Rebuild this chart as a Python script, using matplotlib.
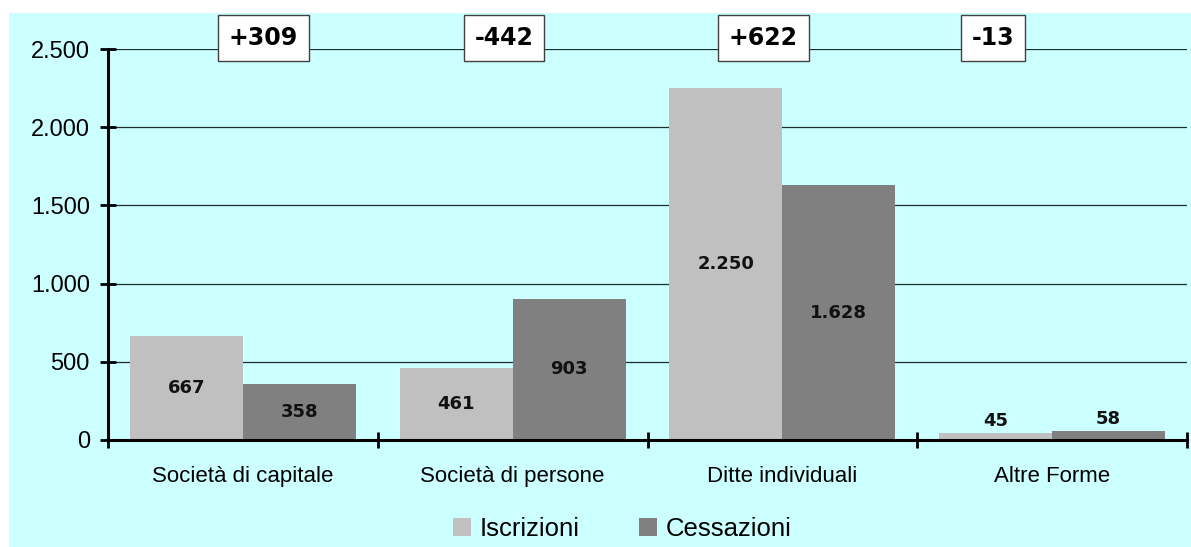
import matplotlib
matplotlib.use("Agg")
import matplotlib.pyplot as plt
import numpy as np
from matplotlib.patches import Rectangle

categories = ["Società di capitale", "Società di persone", "Ditte individuali", "Altre Forme"]
iscrizioni = [667, 461, 2250, 45]
cessazioni = [358, 903, 1628, 58]
series_names = ["Iscrizioni", "Cessazioni"]
yticks = [0, 500, 1000, 1500, 2000, 2500]

# where the hand-placed "saldo" boxes sit, relative to each category centre
box_shift = [0.076, -0.032, -0.07, -0.219]

BG = "#CCFFFF"
C_ISC = "#C0C0C0"
C_CES = "#808080"


def it_fmt(v):
    return f"{v:,}".replace(",", ".")


plt.rcParams["font.family"] = ["Liberation Sans", "DejaVu Sans"]

fig = plt.figure(figsize=(11.91, 5.47), dpi=100, facecolor="white")
fig.patches.append(Rectangle((9 / 1191, 0), 1, 1 - 13 / 547, transform=fig.transFigure,
                             facecolor=BG, edgecolor="none", zorder=-10))

ax = fig.add_axes([108 / 1191, 1 - 440 / 547, (1187 - 108) / 1191, (440 - 49) / 547])
ax.set_facecolor("none")

x = np.arange(len(categories))
w = 0.419
b1 = ax.bar(x - w / 2, iscrizioni, w, color=C_ISC, label=series_names[0], zorder=2)
b2 = ax.bar(x + w / 2, cessazioni, w, color=C_CES, label=series_names[1], zorder=2)

# values inside the bar when it is tall enough, above it otherwise
for cont, vals in ((b1, iscrizioni), (b2, cessazioni)):
    inside = [it_fmt(v) if v > 200 else "" for v in vals]
    above = [it_fmt(v) if v <= 200 else "" for v in vals]
    ax.bar_label(cont, labels=inside, label_type="center", fontsize=13,
                 fontweight="bold", family="DejaVu Sans", color="#111111")
    ax.bar_label(cont, labels=above, label_type="edge", padding=2, fontsize=13,
                 fontweight="bold", family="DejaVu Sans", color="#111111")

ax.set_xlim(-0.5, len(categories) - 0.5)
ax.set_ylim(0, 2500)
ax.set_yticks(yticks)
ax.set_yticklabels([it_fmt(v) for v in yticks], fontsize=17)
ax.yaxis.grid(True, color="#1a2e2e", lw=0.9, zorder=0)
ax.set_axisbelow(True)

ax.set_xticks(np.arange(len(categories) + 1) - 0.5)
ax.set_xticklabels([])
ax.set_xticks(x, minor=True)
ax.set_xticklabels(categories, minor=True, fontsize=16)
ax.tick_params(axis="x", which="major", direction="inout", length=12, width=2)
ax.tick_params(axis="x", which="minor", length=0, pad=19)
ax.tick_params(axis="y", direction="inout", length=12, width=2, pad=7)

for s in ("top", "right"):
    ax.spines[s].set_visible(False)
for s in ("left", "bottom"):
    ax.spines[s].set_linewidth(2.2)
    ax.spines[s].set_zorder(5)

# saldo boxes above each group
for i, (a, b) in enumerate(zip(iscrizioni, cessazioni)):
    d = a - b
    ax.text(x[i] + box_shift[i], 2570, f"{d:+d}", ha="center", va="center",
            fontsize=17, fontweight="bold", family="DejaVu Sans", clip_on=False, zorder=6,
            bbox=dict(boxstyle="square,pad=0.45", facecolor="white", edgecolor="#404040", lw=1))

fig.legend(handles=[b1, b2], labels=series_names, loc="center",
           bbox_to_anchor=(622 / 1191, 1 - 529 / 547), ncol=2, frameon=False,
           fontsize=18.5, handlelength=0.7, handleheight=0.7, handletextpad=0.35,
           columnspacing=2.3, borderaxespad=0)

fig.savefig("out.png", dpi=100, facecolor=fig.get_facecolor())
